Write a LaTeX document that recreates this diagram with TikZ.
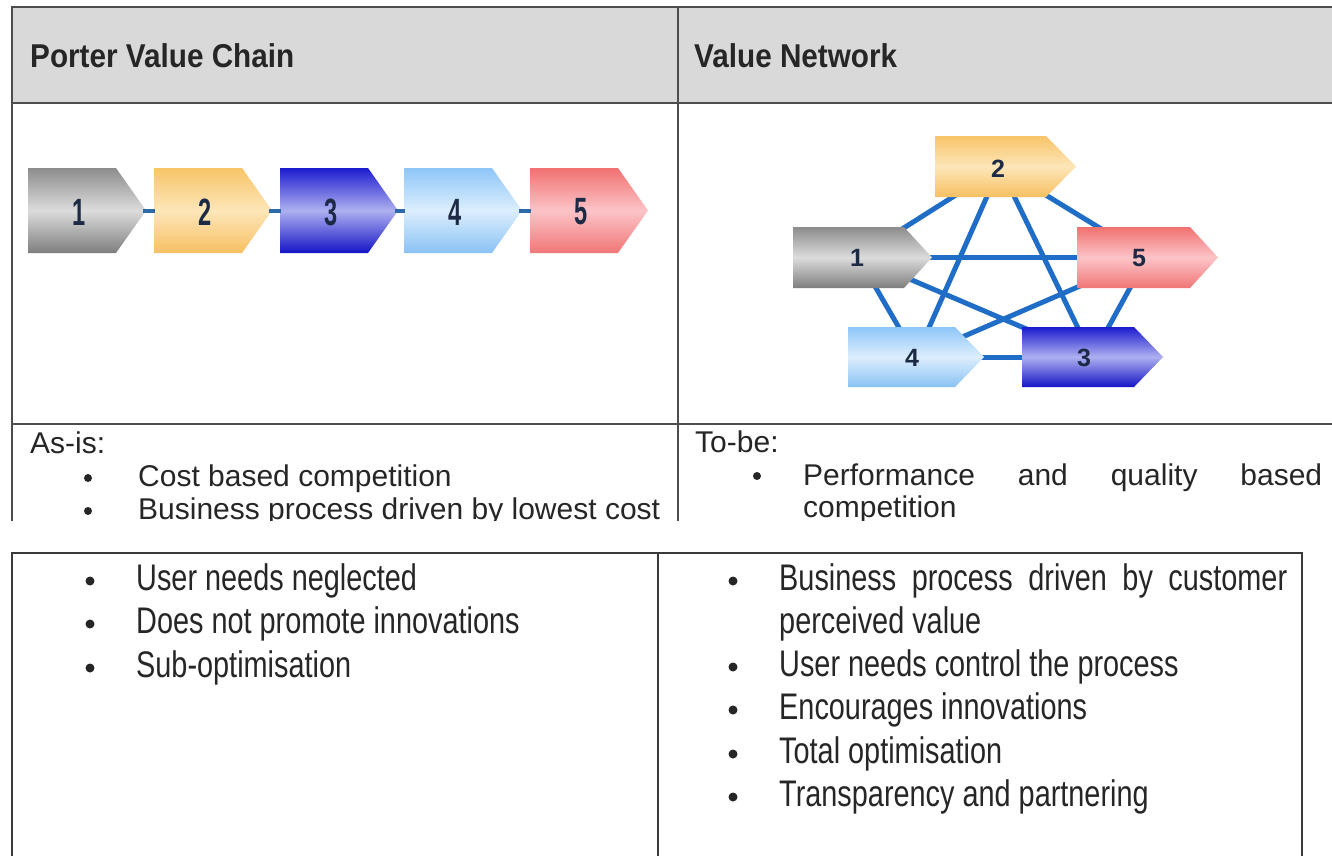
\documentclass[tikz,border=0pt]{standalone}
\usepackage{fontspec}
\setmainfont{Liberation Sans}
\newfontfamily\narrowfont{Liberation Sans}[FakeStretch=0.78]
\newfontfamily\headfont{Liberation Sans}[FakeStretch=0.9]
\newfontfamily\digitfont{Liberation Sans}[FakeStretch=0.62]
\definecolor{headgray}{HTML}{D9D9D9}
\definecolor{tablegray}{HTML}{4D4D4D}
\definecolor{boxgray}{HTML}{3A3A3A}
\definecolor{txtdark}{HTML}{262626}
\definecolor{digitnavy}{HTML}{1C2A46}
\definecolor{netblue}{HTML}{1F6DC6}
\definecolor{dashblue}{HTML}{2E6AA8}
\definecolor{grayT}{HTML}{8C8C8C}\definecolor{grayM}{HTML}{DCDCDC}\definecolor{grayB}{HTML}{7E7E7E}
\definecolor{orT}{HTML}{F8C468}\definecolor{orM}{HTML}{FDE6B8}\definecolor{orB}{HTML}{F7C062}
\definecolor{blT}{HTML}{1C1CCF}\definecolor{blM}{HTML}{AEB0F0}\definecolor{blB}{HTML}{1414C6}
\definecolor{lbT}{HTML}{8EC6F8}\definecolor{lbM}{HTML}{DCEEFD}\definecolor{lbB}{HTML}{8AC2F4}
\definecolor{rdT}{HTML}{F17070}\definecolor{rdM}{HTML}{FCC4C8}\definecolor{rdB}{HTML}{F07676}
% #1 left, #2 top, #3 width, #4 height, #5 depth, #6 top colour, #7 middle colour, #8 bottom colour
\newcommand\chevshape[8]{%
  \shade[top color=#6, bottom color=#8, middle color=#7]
    (#1,#2) -- ({#1+#3-#5},#2) -- ({#1+#3},{#2+#4/2}) -- ({#1+#3-#5},{#2+#4}) -- (#1,{#2+#4}) -- cycle;}
\begin{document}
\begin{tikzpicture}[x=1pt,y=-1pt,
  tline/.style={draw=tablegray, line width=2.5pt},
  bline/.style={draw=boxgray, line width=2pt},
  headtext/.style={anchor=base west, inner sep=0pt, text=txtdark, font=\headfont\bfseries\fontsize{33}{33}\selectfont},
  toptext/.style={anchor=base west, inner sep=0pt, text=txtdark, font=\fontsize{30}{33}\selectfont},
  bottext/.style={anchor=base west, inner sep=0pt, text=txtdark, font=\narrowfont\fontsize{37}{44}\selectfont},
  chaindigit/.style={inner sep=0pt, text=digitnavy, font=\digitfont\bfseries\fontsize{38}{38}\selectfont},
  netdigit/.style={inner sep=0pt, text=digitnavy, font=\bfseries\fontsize{25}{25}\selectfont},
  netline/.style={draw=netblue, line width=5pt},
  chainlink/.style={draw=dashblue, line width=4pt}]
\useasboundingbox (0,0) rectangle (1332,855);
\fill[white] (0,0) rectangle (1332,855);

% ---------------- top table (clipped like the screenshot) ----------------
\begin{scope}
\clip (0,0) rectangle (1332,520);
\fill[headgray] (12,7) rectangle (1332,103);
\draw[tline] (12,7) -- (1332,7);
\draw[tline] (12,103) -- (1332,103);
\draw[tline] (12,424) -- (1332,424);
\draw[tline] (12,6) -- (12,521);
\draw[tline] (678,6) -- (678,521);

\node[headtext] (hl) at (30,67) {Porter Value Chain};
\node[headtext] (hr) at (694,67) {Value Network};

% value chain
\chevshape{28}{168}{118}{85}{30}{grayT}{grayM}{grayB}
\chevshape{154}{168}{118}{85}{30}{orT}{orM}{orB}
\chevshape{280}{168}{118}{85}{30}{blT}{blM}{blB}
\chevshape{404}{168}{118}{85}{30}{lbT}{lbM}{lbB}
\chevshape{530}{168}{118}{85}{30}{rdT}{rdM}{rdB}
\coordinate (ct1) at (143,210.5); \coordinate (cl2) at (155,210.5);
\coordinate (ct2) at (269,210.5); \coordinate (cl3) at (281,210.5);
\coordinate (ct3) at (395,210.5); \coordinate (cl4) at (405,210.5);
\coordinate (ct4) at (519,210.5); \coordinate (cl5) at (531,210.5);
\draw[chainlink] (ct1) -- (cl2);
\draw[chainlink] (ct2) -- (cl3);
\draw[chainlink] (ct3) -- (cl4);
\draw[chainlink] (ct4) -- (cl5);
\node[chaindigit] (c1) at (79,212) {1};
\node[chaindigit] (c2) at (205,212) {2};
\node[chaindigit] (c3) at (331,212) {3};
\node[chaindigit] (c4) at (455,212) {4};
\node[chaindigit] (c5) at (581,212) {5};

% value network
\coordinate (p1) at (858,257);
\coordinate (p2) at (1000,167);
\coordinate (p3) at (1092,357);
\coordinate (p4) at (916,357);
\coordinate (p5) at (1147,257);
\draw[netline] (p2) -- (p1);
\draw[netline] (p2) -- (p4);
\draw[netline] (p2) -- (p3);
\draw[netline] (p2) -- (p5);
\draw[netline] (p1) -- (p5);
\draw[netline] (p1) -- (p3);
\draw[netline] (p1) -- (p4);
\draw[netline] (p5) -- (p4);
\draw[netline] (p5) -- (p3);
\draw[netline] (p4) -- (p3);
\chevshape{935}{136}{141}{61}{30}{orT}{orM}{orB}
\chevshape{793}{227}{139}{61}{28}{grayT}{grayM}{grayB}
\chevshape{1077}{227}{141}{61}{28}{rdT}{rdM}{rdB}
\chevshape{848}{327}{136}{60}{29}{lbT}{lbM}{lbB}
\chevshape{1022}{327}{141}{60}{29}{blT}{blM}{blB}
\node[netdigit] (n2) at (998,169) {2};
\node[netdigit] (n1) at (857,258) {1};
\node[netdigit] (n5) at (1139,258) {5};
\node[netdigit] (n4) at (912,358) {4};
\node[netdigit] (n3) at (1084,358) {3};

% as-is / to-be
\node[toptext] (asis) at (30,453) {As-is:};
\fill[txtdark] (88,478) circle (4);
\node[toptext] (a1) at (138,486) {Cost based competition};
\fill[txtdark] (88,511) circle (4);
\node[toptext] (a2) at (138,519) {Business process driven by lowest cost};

\node[toptext] (tobe) at (695,452) {To-be:};
\fill[txtdark] (757,476) circle (4);
\node[toptext] (b1) at (803,485) {\makebox[519pt][l]{Performance\hfill and\hfill quality\hfill based}};
\node[toptext] (b2) at (803,517) {competition};
\end{scope}

% ---------------- bottom box ----------------
\draw[bline] (12,856) -- (12,553) -- (1302,553) -- (1302,856);
\draw[bline] (658,553) -- (658,856);

\fill[txtdark] (90,581) circle (4.5);
\node[bottext] (l1) at (136,590) {User needs neglected};
\fill[txtdark] (90,624) circle (4.5);
\node[bottext] (l2) at (136,633) {Does not promote innovations};
\fill[txtdark] (90,668) circle (4.5);
\node[bottext] (l3) at (136,677) {Sub-optimisation};

\fill[txtdark] (733,581) circle (4.5);
\node[bottext] (r1) at (779,590) {\makebox[508pt][l]{Business\hfill process\hfill driven\hfill by\hfill customer}};
\node[bottext] (r1b) at (779,633) {perceived value};
\fill[txtdark] (733,667) circle (4.5);
\node[bottext] (r2) at (779,676) {User needs control the process};
\fill[txtdark] (733,710) circle (4.5);
\node[bottext] (r3) at (779,719) {Encourages innovations};
\fill[txtdark] (733,754) circle (4.5);
\node[bottext] (r4) at (779,763) {Total optimisation};
\fill[txtdark] (733,797) circle (4.5);
\node[bottext] (r5) at (779,806) {Transparency and partnering};
\end{tikzpicture}
\end{document}
